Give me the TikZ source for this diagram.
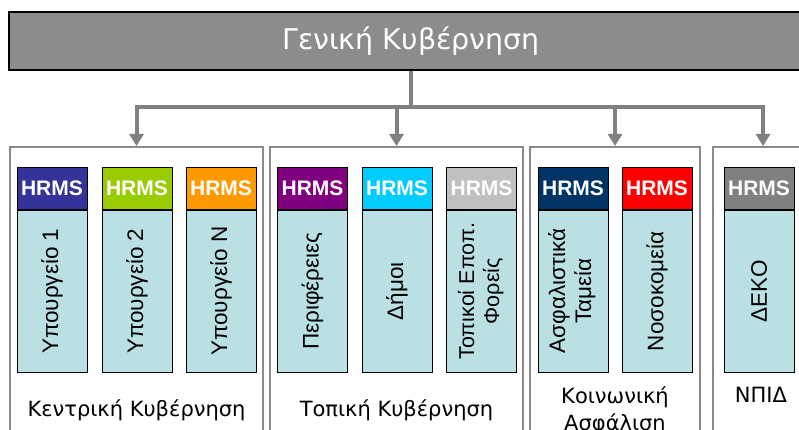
\documentclass[tikz,border=0pt]{standalone}
\usepackage{fontspec}
\setmainfont{Liberation Sans}
\newfontfamily\verd{DejaVu Sans}
\usetikzlibrary{positioning,arrows.meta}
\definecolor{bannergray}{RGB}{140,140,140}
\definecolor{linkgray}{RGB}{128,128,128}
\definecolor{boxgray}{RGB}{138,138,138}
\definecolor{bodyblue}{RGB}{187,224,227}
\definecolor{hindigo}{RGB}{51,51,153}
\definecolor{hlime}{RGB}{153,204,0}
\definecolor{horange}{RGB}{255,153,0}
\definecolor{hpurple}{RGB}{128,0,128}
\definecolor{hcyan}{RGB}{0,204,255}
\definecolor{hsilver}{RGB}{192,192,192}
\definecolor{hnavy}{RGB}{0,51,102}
\definecolor{hred}{RGB}{255,0,0}
\definecolor{hgray}{RGB}{128,128,128}

\begin{document}
\begin{tikzpicture}[x=1pt,y=-1pt,
  link/.style={draw=linkgray, line width=4pt},
  drop/.style={link, -{Triangle[width=14pt,length=12pt]}},
  group/.style={draw=boxgray, line width=2pt, minimum height=304pt, anchor=north, inner sep=0pt},
  hrms/.style={draw=black, line width=0.8pt, fill=#1, minimum width=70pt, minimum height=42pt,
    anchor=north, inner sep=0pt, text=white, font=\fontsize{21}{21}\selectfont\bfseries},
  body/.style={draw=black, line width=0.8pt, fill=bodyblue, minimum width=70pt, minimum height=162pt,
    inner sep=0pt, font=\fontsize{22.5}{26}\selectfont},
  caption/.style={font=\verd\fontsize{21}{27}\selectfont, align=center, inner sep=0pt},
]
  \useasboundingbox (0,0) rectangle (799,430);
  \fill[white] (0,0) rectangle (799,430);

  % top level
  \node[draw=black, line width=1.5pt, fill=bannergray, minimum width=804pt, minimum height=58pt,
    text=white, font=\verd\fontsize{28.5}{28.5}\selectfont] (gen) at (411,41) {Γενική Κυβέρνηση};
  \coordinate (hub) at (411,107);

  % groups
  \node[group, minimum width=253pt] (cg) at (136.5,146) {};
  \node[group, minimum width=253pt] (lg) at (396.5,146) {};
  \node[group, minimum width=170pt] (ss) at (615,146) {};
  \node[group, minimum width=100pt] (np) at (763,146) {};

  \draw[link] (gen.south) -- (hub);
  \draw[drop] (hub) -| (cg.north);
  \draw[drop] (hub) -| (lg.north);
  \draw[drop] (hub) -| (ss.north);
  \draw[drop] (hub) -| (np.north);

  % columns
  \node[hrms=hindigo] (h1) at (52,167) {HRMS};
  \node[body, below=0pt of h1] (b1) {\rotatebox{90}{Υπουργείο 1}};
  \node[hrms=hlime] (h2) at (137,167) {HRMS};
  \node[body, below=0pt of h2] (b2) {\rotatebox{90}{Υπουργείο 2}};
  \node[hrms=horange] (h3) at (221,167) {HRMS};
  \node[body, below=0pt of h3] (b3) {\rotatebox{90}{Υπουργείο N}};

  \node[hrms=hpurple] (h4) at (312.5,167) {HRMS};
  \node[body, below=0pt of h4] (b4) {\rotatebox{90}{Περιφέρειες}};
  \node[hrms=hcyan] (h5) at (397,167) {HRMS};
  \node[body, below=0pt of h5] (b5) {\rotatebox{90}{Δήμοι}};
  \node[hrms=hsilver] (h6) at (481.5,167) {HRMS};
  \node[body, below=0pt of h6, font=\fontsize{21.5}{25}\selectfont] (b6)
    {\rotatebox{90}{\begin{tabular}{@{}c@{}}Τοπικοί Εποπ.\\Φορείς\end{tabular}}};

  \node[hrms=hnavy] (h7) at (573,167) {HRMS};
  \node[body, below=0pt of h7] (b7)
    {\rotatebox{90}{\begin{tabular}{@{}c@{}}Ασφαλιστικά\\Ταμεία\end{tabular}}};
  \node[hrms=hred] (h8) at (657,167) {HRMS};
  \node[body, below=0pt of h8] (b8) {\rotatebox{90}{Νοσοκομεία}};

  \node[hrms=hgray] (h9) at (759,167) {HRMS};
  \node[body, below=0pt of h9] (b9) {\rotatebox{90}{ΔΕΚΟ}};

  % captions
  \node[caption] (cgl) at (136.5,410) {Κεντρική Κυβέρνηση};
  \node[caption] (lgl) at (396.5,410) {Τοπική Κυβέρνηση};
  \node[caption, anchor=north] (ssl) at (615,387) {Κοινωνική\\Ασφάλιση};
  \node[caption, anchor=north] (npl) at (761,387) {ΝΠΙΔ};
\end{tikzpicture}
\end{document}
